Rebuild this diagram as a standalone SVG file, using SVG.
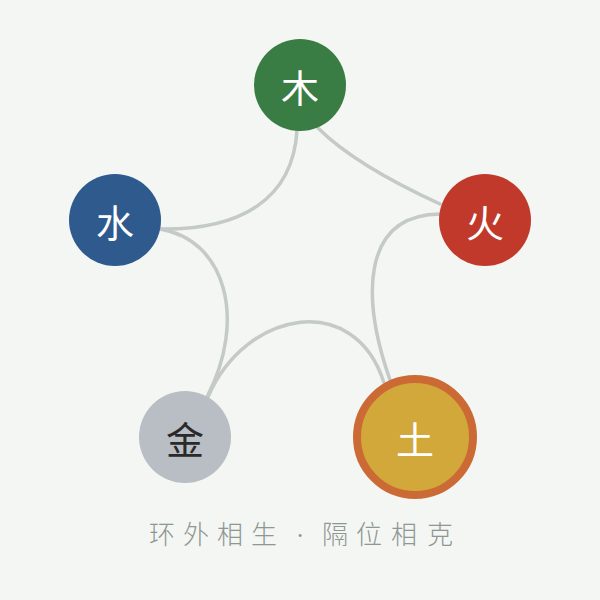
<svg xmlns="http://www.w3.org/2000/svg" width="600" height="600" viewBox="0 0 600 600">
<style>
.edge{fill:none;stroke:#c4cac7;stroke-width:3.5;stroke-linecap:round}
.lbl{font-family:"Liberation Serif","Noto Sans CJK SC",serif;font-size:38px;text-anchor:middle;dominant-baseline:central}
.cap{font-family:"Liberation Serif","Noto Sans CJK SC",serif;font-size:26px;fill:#8e9793;font-weight:300}
</style>
<rect width="600" height="600" fill="#f4f6f3"/>
<g id="connectors">
<path class="edge" d="M318,128 Q355,165 440,204"/>
<path class="edge" d="M297,130 C293,200 240,230 160,229"/>
<path class="edge" d="M160,229 C226,240 247,320 207,397"/>
<path class="edge" d="M208,397 C245,310 355,290 384,383"/>
<path class="edge" d="M440,214 C360,215 362,300 390,380"/>
</g>
<g id="wood"><circle cx="300" cy="85" r="46" fill="#3a7d44"/><text class="lbl" x="300" y="89" fill="#ffffff">木</text></g>
<g id="fire"><circle cx="485" cy="220" r="46" fill="#c0392b"/><text class="lbl" x="485" y="224" fill="#ffffff">火</text></g>
<g id="water"><circle cx="115" cy="220" r="46" fill="#2e5a8e"/><text class="lbl" x="115" y="224" fill="#ffffff">水</text></g>
<g id="metal"><circle cx="185" cy="437" r="46" fill="#b9bec4"/><text class="lbl" x="185" y="441" fill="#2a2a2a">金</text></g>
<g id="earth"><circle cx="415" cy="437" r="58" fill="#d2a83b" stroke="#cc6a35" stroke-width="8"/><text class="lbl" x="415" y="441" fill="#ffffff">土</text></g>
<text class="cap" x="162 196 230 264 282 300 318 335 369 404 440" y="544" text-anchor="middle">环外相生 · 隔位相克</text>
</svg>
